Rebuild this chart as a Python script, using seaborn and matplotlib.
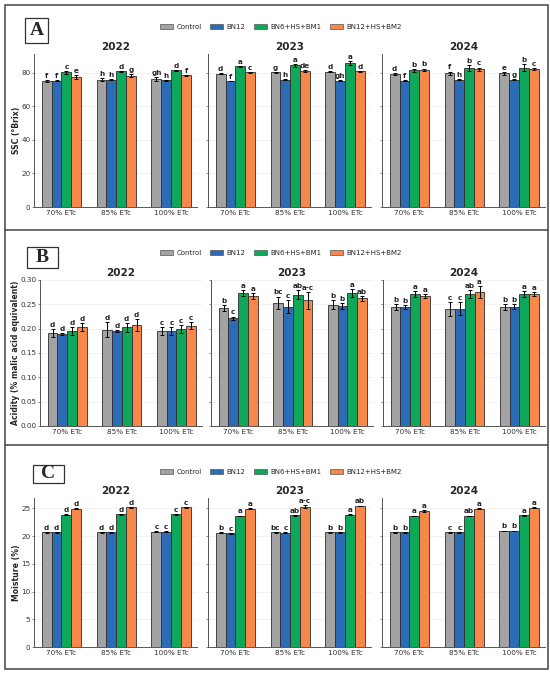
import numpy as np
import pandas as pd
import matplotlib as mpl
mpl.use('Agg')
import matplotlib.pyplot as plt
from matplotlib.patches import Rectangle, Patch
from matplotlib.lines import Line2D
import seaborn as sns

sns.set_style('ticks')
plt.rcParams['font.family'] = ['DejaVu Sans']

years = ['2022', '2023', '2024']
irrigation = ['70% ETc', '85% ETc', '100% ETc']
treatments = ['Control', 'BN12', 'BN6+HS+BM1', 'BN12+HS+BM2']
palette = ['#a3a3a3', '#2c6cb6', '#0fa85a', '#f7874a']

# rows: treatments, columns: irrigation levels
ssc_2022 = [[75.2, 75.9, 76.3], [75.3, 75.9, 75.5], [80.3, 81.0, 81.5], [77.6, 78.3, 78.5]]
ssc_2023 = [[79.5, 80.4, 80.8], [75.0, 76.0, 75.4], [83.9, 84.5, 85.8], [80.4, 81.2, 80.9]]
ssc_2024 = [[79.2, 79.8, 79.8], [75.4, 75.9, 75.9], [81.6, 83.0, 83.2], [81.8, 82.2, 82.2]]
ssc_err_2022 = [[0.8, 0.8, 1.0], [0.2, 0.2, 0.2], [0.8, 0.3, 0.4], [1.0, 0.8, 0.5]]
ssc_err_2023 = [[0.4, 0.3, 0.3], [0.1, 0.1, 0.3], [0.4, 1.0, 1.3], [0.3, 0.4, 0.2]]
ssc_err_2024 = [[0.7, 1.0, 0.8], [0.4, 0.3, 0.3], [0.9, 1.8, 2.0], [0.8, 1.0, 0.6]]
ssc_let_2022 = [['f', 'h', 'gh'], ['f', 'h', 'h'], ['c', 'd', 'd'], ['e', 'g', 'f']]
ssc_let_2023 = [['d', 'g', 'd'], ['f', 'h', 'gh'], ['a', 'a', 'a'], ['c', 'de', 'd']]
ssc_let_2024 = [['d', 'f', 'e'], ['f', 'h', 'g'], ['b', 'b', 'b'], ['b', 'c', 'c']]

acid_2022 = [[0.191, 0.198, 0.195], [0.189, 0.195, 0.195], [0.195, 0.203, 0.200], [0.203, 0.208, 0.206]]
acid_2023 = [[0.243, 0.253, 0.249], [0.221, 0.245, 0.247], [0.273, 0.270, 0.273], [0.267, 0.258, 0.262]]
acid_2024 = [[0.244, 0.241, 0.244], [0.245, 0.241, 0.245], [0.271, 0.271, 0.271], [0.267, 0.275, 0.271]]
acid_err_2022 = [[0.008, 0.016, 0.008], [0.002, 0.002, 0.009], [0.008, 0.009, 0.008], [0.008, 0.012, 0.007]]
acid_err_2023 = [[0.006, 0.013, 0.009], [0.004, 0.013, 0.006], [0.006, 0.010, 0.008], [0.007, 0.017, 0.005]]
acid_err_2024 = [[0.006, 0.014, 0.006], [0.004, 0.013, 0.005], [0.006, 0.008, 0.006], [0.005, 0.012, 0.004]]
acid_let_2022 = [['d', 'd', 'c'], ['d', 'd', 'c'], ['d', 'd', 'c'], ['d', 'd', 'c']]
acid_let_2023 = [['b', 'bc', 'b'], ['c', 'c', 'b'], ['a', 'ab', 'a'], ['a', 'a-c', 'ab']]
acid_let_2024 = [['b', 'c', 'b'], ['b', 'c', 'b'], ['a', 'ab', 'a'], ['a', 'a', 'a']]

moist_2022 = [[20.7, 20.7, 20.8], [20.7, 20.7, 20.8], [23.8, 23.9, 23.9], [24.9, 25.2, 25.2]]
moist_2023 = [[20.6, 20.7, 20.7], [20.5, 20.6, 20.7], [23.6, 23.7, 23.8], [24.9, 25.3, 25.4]]
moist_2024 = [[20.7, 20.7, 20.9], [20.7, 20.7, 20.9], [23.6, 23.6, 23.7], [24.5, 24.9, 25.1]]
moist_err_2022 = [[0.08, 0.08, 0.08], [0.08, 0.08, 0.08], [0.1, 0.08, 0.08], [0.12, 0.08, 0.08]]
moist_err_2023 = [[0.08, 0.08, 0.08], [0.08, 0.08, 0.08], [0.08, 0.1, 0.08], [0.12, 0.2, 0.08]]
moist_err_2024 = [[0.08, 0.08, 0.08], [0.08, 0.08, 0.08], [0.08, 0.08, 0.08], [0.1, 0.08, 0.08]]
moist_let_2022 = acid_let_2022
moist_let_2023 = acid_let_2023
moist_let_2024 = acid_let_2024

W, H = 550, 675


def fx(x):
    return x / W


def fy(y):
    return 1 - y / H


def long_df(means, errs):
    rows = []
    for t, trt in enumerate(treatments):
        for i, irr in enumerate(irrigation):
            rows.append({'irr': irr, 'trt': trt, 'val': means[t][i], 'err': errs[t][i]})
    return pd.DataFrame(rows)


def draw_panel(fig, spec):
    lefts, width, top, bottom = spec['lefts'], spec['width'], spec['top'], spec['bottom']
    axes = []
    for k, year in enumerate(years):
        ax = fig.add_axes([fx(lefts[k]), fy(bottom), width / W, (bottom - top) / H])
        df = long_df(spec['means'][k], spec['errs'][k])
        sns.barplot(data=df, x='irr', y='val', hue='trt', order=irrigation,
                    hue_order=treatments, palette=palette, saturation=1, width=0.72,
                    errorbar=None, edgecolor='#2e2e2e', linewidth=0.6,
                    legend=False, ax=ax)
        bar_conts = list(ax.containers)
        for t, cont in enumerate(bar_conts):
            xs = [b.get_x() + b.get_width() / 2 for b in cont]
            hs = [b.get_height() for b in cont]
            es = spec['errs'][k][t]
            ax.errorbar(xs, hs, yerr=es, fmt='none', ecolor='black',
                        elinewidth=0.7, capsize=1.6, capthick=0.7, zorder=5)
            for x, h, e, lab in zip(xs, hs, es, spec['letters'][k][t]):
                ax.annotate(lab, (x, h + e), xytext=(0, 0.8), textcoords='offset points',
                            ha='center', va='bottom', fontsize=5.2, fontweight='bold')
        ax.set_ylim(0, spec['ymax'])
        ax.set_yticks(spec['yticks'])
        ax.set_xlim(-0.5, 2.47)
        ax.set_xlabel('')
        ax.set_ylabel('')
        ax.set_title(year, fontsize=7.5, fontweight='bold', pad=3)
        ax.grid(axis='y', color='#ececec', linewidth=0.5)
        ax.set_axisbelow(True)
        sns.despine(ax=ax)
        for s in ['left', 'bottom']:
            ax.spines[s].set_color('#555555')
            ax.spines[s].set_linewidth(0.7)
        ax.tick_params(axis='both', labelsize=5.2, length=1.5, width=0.5, colors='#555555',
                       labelcolor='#333333', pad=1)
        ax.tick_params(axis='x', length=0, pad=2)
        if k > 0:
            ax.set_yticklabels([])
        else:
            ax.yaxis.set_major_formatter(spec['fmt'])
        axes.append(ax)
    fig.text(fx(16), fy((top + bottom) / 2), spec['ylabel'], rotation=90, ha='center',
             va='center', fontsize=5.6, fontweight='bold')
    # panel letter box
    bx0, by0, bx1, by1 = spec['box']
    fig.add_artist(Rectangle((fx(bx0), fy(by1)), (bx1 - bx0) / W, (by1 - by0) / H,
                             transform=fig.transFigure, facecolor='white',
                             edgecolor='#333333', linewidth=0.9))
    fig.text(fx((bx0 + bx1) / 2), fy((by0 + by1) / 2), spec['tag'], ha='center', va='center',
             fontsize=14, fontweight='bold', family=['Liberation Serif', 'DejaVu Serif'])
    handles = [Patch(facecolor=c, edgecolor='#555555', linewidth=0.5) for c in palette]
    fig.legend(handles, treatments, loc='center', bbox_to_anchor=(fx(281), fy(spec['legend_y'])),
               ncol=4, frameon=False, fontsize=5, handlelength=1.8, handleheight=0.8,
               columnspacing=1.3, handletextpad=0.5)
    return axes


fig = plt.figure(figsize=(W / 100, H / 100), dpi=100)

fmt0 = mpl.ticker.FormatStrFormatter('%d')
fmt2 = mpl.ticker.FormatStrFormatter('%.2f')

panels = [
    dict(tag='A', lefts=[34, 208, 382], width=163, top=54, bottom=207, ymax=91.3,
         yticks=[0, 20, 40, 60, 80], fmt=fmt0, ylabel='SSC (°Brix)', legend_y=27,
         box=(25, 18, 48, 43),
         means=[ssc_2022, ssc_2023, ssc_2024], errs=[ssc_err_2022, ssc_err_2023, ssc_err_2024],
         letters=[ssc_let_2022, ssc_let_2023, ssc_let_2024]),
    dict(tag='B', lefts=[40, 211, 383], width=162, top=280, bottom=426, ymax=0.30,
         yticks=[0, 0.05, 0.10, 0.15, 0.20, 0.25, 0.30], fmt=fmt2,
         ylabel='Acidity (% malic acid equivalent)', legend_y=253,
         box=(27, 247, 58, 268),
         means=[acid_2022, acid_2023, acid_2024], errs=[acid_err_2022, acid_err_2023, acid_err_2024],
         letters=[acid_let_2022, acid_let_2023, acid_let_2024]),
    dict(tag='C', lefts=[34, 208, 382], width=163, top=498, bottom=647, ymax=26.85,
         yticks=[0, 5, 10, 15, 20, 25], fmt=fmt0, ylabel='Moisture (%)', legend_y=472,
         box=(33, 465, 64, 483),
         means=[moist_2022, moist_2023, moist_2024], errs=[moist_err_2022, moist_err_2023, moist_err_2024],
         letters=[moist_let_2022, moist_let_2023, moist_let_2024]),
]

for spec in panels:
    draw_panel(fig, spec)

# outer frame and separators
fig.add_artist(Rectangle((fx(5), fy(669)), 543 / W, 664 / H, transform=fig.transFigure,
                         facecolor='none', edgecolor='#444444', linewidth=1.1))
for y in [230, 445]:
    fig.add_artist(Line2D([fx(5), fx(548)], [fy(y), fy(y)], transform=fig.transFigure,
                          color='#444444', linewidth=1.1))

fig.savefig('out.png', dpi=100)
